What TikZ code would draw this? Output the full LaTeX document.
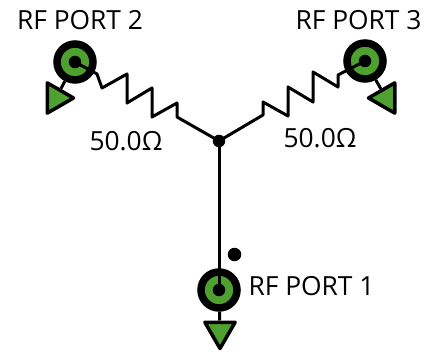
\documentclass[tikz,border=0pt]{standalone}
\usepackage{fontspec}
\setmainfont{Open Sans}
\usetikzlibrary{shapes.geometric}
\definecolor{portgreen}{HTML}{4EA02F}
\tikzset{
  wire/.style={line width=0.06cm,line join=round},
  port/.style={circle,draw=black,fill=portgreen,line width=0.15cm,minimum size=0.72cm,inner sep=0pt},
  pin/.style={circle,fill=black,minimum size=0.25cm,inner sep=0pt},
  gnd/.style={regular polygon,regular polygon sides=3,draw=black,fill=portgreen,line width=0.07cm,line join=round,minimum size=0.7cm,inner sep=0pt},
  lbl/.style={font=\fontsize{15pt}{17pt}\selectfont,inner sep=0pt}
}
\begin{document}
\begin{tikzpicture}
  \useasboundingbox (0,0) rectangle (8.7,7.02);
  \node[port] (port1) at (4.38,1.22) {};
  \node[port] (port2) at (1.5,5.78) {};
  \node[port] (port3) at (7.3,5.8) {};
  \node[pin] (pin1) at (4.38,1.22) {};
  \node[pin] (pin2) at (1.5,5.78) {};
  \node[pin] (pin3) at (7.3,5.8) {};
  \node[pin] (hub) at (4.38,4.2) {};
  \node[circle,fill=black,minimum size=0.27cm,inner sep=0pt] (mark) at (4.69,1.93) {};
  \node[gnd,rotate=180] (gnd1) at (4.4,0.4) {};
  \node[gnd,rotate=-90] (gnd2) at (1.12,5.06) {};
  \node[gnd,rotate=90] (gnd3) at (7.72,5.06) {};
  \draw[wire] (hub.center) -- (pin1.center);
  \draw[wire] (port1) -- (gnd1);
  \draw[wire] (port2) -- (gnd2);
  \draw[wire] (port3) -- (gnd3);
  \draw[wire] (pin2.center) -- (1.94,5.54) -- (2.04,5.26) -- (2.54,5.54) -- (2.54,4.96) -- (3.04,5.26)
     -- (3.04,4.68) -- (3.54,4.96) -- (3.54,4.68) -- (hub.center);
  \draw[wire] (hub.center) -- (5.26,4.72) -- (5.26,4.98) -- (5.76,4.7) -- (5.76,5.28) -- (6.26,4.98)
     -- (6.26,5.58) -- (6.76,5.28) -- (6.76,5.52) -- (pin3.center);
  \node[lbl] (name1) at (6.23,1.3) {RF PORT 1};
  \node[lbl] (name2) at (1.6,6.62) {RF PORT 2};
  \node[lbl] (name3) at (7.17,6.62) {RF PORT 3};
  \node[lbl] (val2) at (2.52,4.2) {50.0Ω};
  \node[lbl] (val3) at (6.4,4.26) {50.0Ω};
\end{tikzpicture}
\end{document}
